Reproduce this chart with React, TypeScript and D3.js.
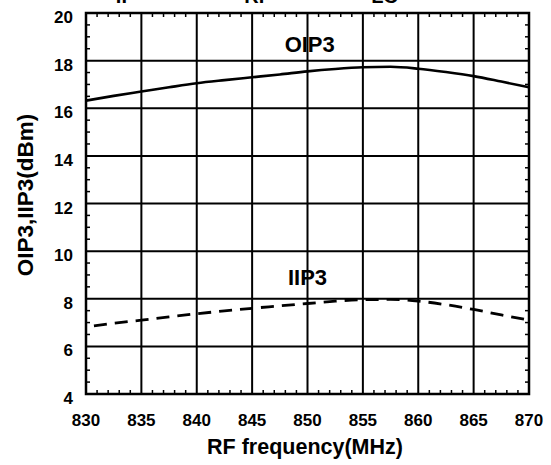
import React from "react";
import * as d3 from "d3";

const freqs = [830, 832.5, 835, 837.5, 840, 842.5, 845, 847.5, 850, 852.5, 855, 857.5, 860, 862.5, 865, 867.5, 870];
const oip3 = [16.32, 16.52, 16.7, 16.88, 17.05, 17.18, 17.3, 17.42, 17.55, 17.65, 17.72, 17.74, 17.66, 17.52, 17.35, 17.12, 16.88];
const iip3 = [6.82, 6.97, 7.1, 7.24, 7.37, 7.49, 7.6, 7.7, 7.8, 7.9, 7.96, 7.97, 7.9, 7.75, 7.55, 7.32, 7.1];
const xTicks = [830, 835, 840, 845, 850, 855, 860, 865, 870];
const yTicks = [4, 6, 8, 10, 12, 14, 16, 18, 20];
const topLabels = [
  { text: "IF", f: 833.5 },
  { text: "RF", f: 845.5 },
  { text: "LO", f: 857 },
];

const W = 551, H = 465;
const L = 86, R = 529, T = 13, B = 394;
const FONT = "Arial, 'Liberation Sans', Helvetica, sans-serif";

export default function App() {
  const x = d3.scaleLinear().domain([830, 870]).range([L, R]);
  const y = d3.scaleLinear().domain([4, 20]).range([B, T]);
  const line = (vals: number[]) =>
    d3
      .line<number>()
      .x((_, i) => x(freqs[i]))
      .y((d) => y(d))
      .curve(d3.curveMonotoneX)(vals) || "";

  const xMinor = d3.range(831, 870, 1).filter((v) => v % 5 !== 0);
  const yMinor = d3.range(4.5, 20, 0.5).filter((v) => v % 2 !== 0);
  const tl = 4;

  return (
    <svg width={W} height={H} style={{ position: "absolute", left: 0, top: 0, background: "#fff" }} fontFamily={FONT}>
      <rect x={0} y={0} width={W} height={H} fill="#fff" />
      {topLabels.map((t) => (
        <text key={t.text} x={x(t.f)} y={3} textAnchor="middle" fontSize={20} fontWeight="bold">
          {t.text}
        </text>
      ))}
      {/* grid */}
      {xTicks.slice(1, -1).map((v) => (
        <line key={"gx" + v} x1={x(v)} x2={x(v)} y1={T} y2={B} stroke="#000" strokeWidth={2} />
      ))}
      {yTicks.slice(1, -1).map((v) => (
        <line key={"gy" + v} x1={L} x2={R} y1={y(v)} y2={y(v)} stroke="#000" strokeWidth={2} />
      ))}
      {/* minor ticks */}
      {xMinor.map((v) => (
        <g key={"mx" + v}>
          <line x1={x(v)} x2={x(v)} y1={B} y2={B - tl} stroke="#000" strokeWidth={1.5} />
          <line x1={x(v)} x2={x(v)} y1={T} y2={T + tl} stroke="#000" strokeWidth={1.5} />
        </g>
      ))}
      {yMinor.map((v) => (
        <g key={"my" + v}>
          <line x1={L} x2={L + tl} y1={y(v)} y2={y(v)} stroke="#000" strokeWidth={1.5} />
          <line x1={R} x2={R - tl} y1={y(v)} y2={y(v)} stroke="#000" strokeWidth={1.5} />
        </g>
      ))}
      <rect x={L} y={T} width={R - L} height={B - T} fill="none" stroke="#000" strokeWidth={2.5} />
      {/* curves */}
      <path d={line(oip3)} fill="none" stroke="#000" strokeWidth={2.6} />
      <path d={line(iip3)} fill="none" stroke="#000" strokeWidth={2.8} strokeDasharray="13,8" strokeDashoffset={-8} />
      <text x={x(850.2)} y={y(18.37)} textAnchor="middle" fontSize={22} fontWeight="bold">OIP3</text>
      <text x={x(850)} y={y(8.58)} textAnchor="middle" fontSize={22} fontWeight="bold">IIP3</text>
      {/* tick labels */}
      {xTicks.map((v) => (
        <text key={"lx" + v} x={x(v)} y={B + 32} textAnchor="middle" fontSize={17} fontWeight="bold">
          {v}
        </text>
      ))}
      {yTicks.map((v) => (
        <text key={"ly" + v} x={L - 13} y={y(v) + 10} textAnchor="end" fontSize={17} fontWeight="bold">
          {v}
        </text>
      ))}
      <text x={305} y={B + 60} textAnchor="middle" fontSize={21.5} fontWeight="bold">
        RF frequency(MHz)
      </text>
      <text
        transform={`translate(33, 195) rotate(-90)`}
        textAnchor="middle"
        fontSize={22.5}
        fontWeight="bold"
      >
        OIP3,IIP3(dBm)
      </text>
    </svg>
  );
}
